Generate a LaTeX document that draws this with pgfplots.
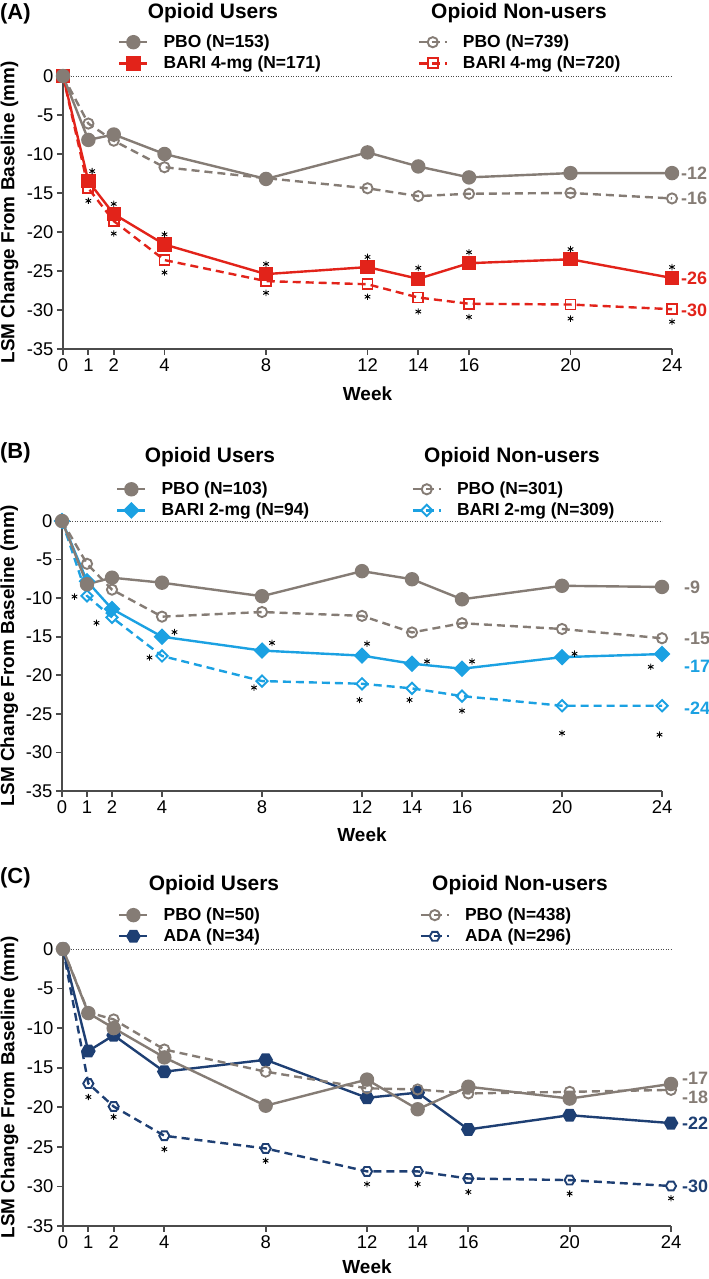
\documentclass[border=0pt]{standalone}
\usepackage{pgfplots}
\pgfplotsset{compat=1.18}
\usepackage{fontspec}
\setmainfont{Liberation Sans}
\usetikzlibrary{plotmarks}

\definecolor{pgray}{RGB}{133,124,117}
\definecolor{pred}{RGB}{226,35,26}
\definecolor{pblue}{RGB}{27,161,226}
\definecolor{pnavy}{RGB}{30,63,115}
\definecolor{axgray}{RGB}{75,75,75}

% hexagon marks for the ADA series
\pgfdeclareplotmark{hexagon}{%
  \pgfpathmoveto{\pgfpointpolar{0}{\pgfplotmarksize}}%
  \pgfpathlineto{\pgfpointpolar{60}{\pgfplotmarksize}}%
  \pgfpathlineto{\pgfpointpolar{120}{\pgfplotmarksize}}%
  \pgfpathlineto{\pgfpointpolar{180}{\pgfplotmarksize}}%
  \pgfpathlineto{\pgfpointpolar{240}{\pgfplotmarksize}}%
  \pgfpathlineto{\pgfpointpolar{300}{\pgfplotmarksize}}%
  \pgfpathclose\pgfusepathqstroke}
\pgfdeclareplotmark{hexagon*}{%
  \pgfpathmoveto{\pgfpointpolar{0}{\pgfplotmarksize}}%
  \pgfpathlineto{\pgfpointpolar{60}{\pgfplotmarksize}}%
  \pgfpathlineto{\pgfpointpolar{120}{\pgfplotmarksize}}%
  \pgfpathlineto{\pgfpointpolar{180}{\pgfplotmarksize}}%
  \pgfpathlineto{\pgfpointpolar{240}{\pgfplotmarksize}}%
  \pgfpathlineto{\pgfpointpolar{300}{\pgfplotmarksize}}%
  \pgfpathclose\pgfusepathqfillstroke}

\newcommand{\hdr}{\bfseries\fontsize{21}{24}\selectfont}
\newcommand{\lastlab}{\bfseries\fontsize{18}{21}\selectfont}

\pgfplotsset{
  panel/.style={
    scale only axis, anchor=south west,
    xmin=0, xmax=24, ymin=-35, ymax=0,
    axis lines=left,
    axis line style={-, line width=1.8bp, draw=axgray},
    xtick={0,1,2,4,8,12,14,16,20,24},
    xticklabels={0,1,2,4,8,12,14,16,20,24},
    ytick={-35,-30,-25,-20,-15,-10,-5,0},
    yticklabels={-35,-30,-25,-20,-15,-10,-5,0},
    tick style={line width=1.8bp, draw=axgray},
    tick align=outside, major tick length=6bp,
    tick label style={font=\fontsize{18.5}{21}\selectfont, text=black},
    xlabel={Week}, ylabel={LSM Change From Baseline (mm)},
    every axis x label/.style={at={(axis description cs:0.5,-0.163)}, anchor=center,
      font=\bfseries\fontsize{19}{22}\selectfont},
    every axis y label/.style={at={(axis description cs:-0.088,0.5)}, rotate=90, anchor=center,
      font=\bfseries\fontsize{19}{22}\selectfont},
    clip=false,
    legend columns=2,
    legend cell align=left,
    legend image code/.code={\draw[mark repeat=2,mark phase=2,##1] plot coordinates {(0bp,0bp) (14bp,0bp) (28bp,0bp)};},
    legend style={draw=none, fill=none, anchor=north west, inner sep=0pt,
      font=\bfseries\fontsize{17.5}{20}\selectfont,
      nodes={inner sep=1bp}, row sep=5bp,
      /tikz/every odd column/.append style={column sep=14bp}},
  },
  zeroline/.style={forget plot, axgray, line width=0.9bp, dash pattern=on 0.9bp off 1.6bp},
  users/.style={line width=2.4bp, solid, mark size=6bp},
  nonusers/.style={line width=2.4bp, dash pattern=on 8bp off 5bp, mark size=5.1bp},
  openmk/.style={mark options={solid, fill=white, line width=1.9bp, #1}},
  openmk/.default={},
  ast/.style={forget plot, only marks, mark=asterisk, mark size=3.2bp,
    mark options={black, line width=0.9bp}},
}

\begin{document}
\begin{tikzpicture}[x=1bp,y=1bp]
\useasboundingbox (0,0) rectangle (709,1279);

%%%%%%%%%%%%%%%% (A)
\begin{axis}[panel, at={(63bp,930bp)}, width=609bp, height=273bp,
  legend style={at={(axis description cs:0.0903,1.154)},
    /tikz/every even column/.append style={column sep=53bp}}]
\addlegendimage{users, pgray, mark=*, mark options={fill=pgray}}
\addlegendentry{\makebox[200bp][l]{PBO (N=153)}}
\addlegendimage{nonusers, pgray, mark=o, openmk}
\addlegendentry{PBO (N=739)}
\addlegendimage{users, pred, mark=square*, mark options={fill=pred}}
\addlegendentry{\makebox[200bp][l]{BARI 4-mg (N=171)}}
\addlegendimage{nonusers, pred, mark=square, mark size=5bp, openmk}
\addlegendentry{BARI 4-mg (N=720)}

\addplot[zeroline] coordinates {(0,0) (24,0)};
\addplot[forget plot, nonusers, pred, mark=square, mark size=5bp, openmk] coordinates {
  (0,0) (1,-14.4) (2,-18.6) (4,-23.6) (8,-26.3) (12,-26.7) (14,-28.4) (16,-29.2) (20,-29.3) (24,-29.9)};
\addplot[forget plot, users, pred, mark=square*, mark options={fill=pred}] coordinates {
  (0,0) (1,-13.5) (2,-17.7) (4,-21.6) (8,-25.4) (12,-24.5) (14,-26.0) (16,-24.0) (20,-23.5) (24,-25.9)};
\addplot[forget plot, nonusers, pgray, mark=o, openmk] coordinates {
  (0,0) (1,-6.1) (2,-8.3) (4,-11.7) (8,-13.1) (12,-14.4) (14,-15.4) (16,-15.1) (20,-15.0) (24,-15.7)};
\addplot[forget plot, users, pgray, mark=*, mark options={fill=pgray}] coordinates {
  (0,0) (1,-8.2) (2,-7.5) (4,-10.0) (8,-13.2) (12,-9.8) (14,-11.6) (16,-13.0) (20,-12.45) (24,-12.45)};
\addplot[ast] coordinates {
  (1.15,-12.2) (2,-16.4) (4,-20.3) (8,-24.1) (12,-23.2) (14,-24.6) (16,-22.6) (20,-22.2) (24,-24.5)
  (1,-16.0) (2,-20.2) (4,-25.2) (8,-27.8) (12,-28.3) (14,-30.2) (16,-30.9) (20,-31.1) (24,-31.5)};

\node[anchor=west, inner sep=0pt, xshift=9bp, text=pgray, font=\lastlab] at (axis cs:24,-12.45) {-12};
\node[anchor=west, inner sep=0pt, xshift=9bp, text=pgray, font=\lastlab] at (axis cs:24,-15.7) {-16};
\node[anchor=west, inner sep=0pt, xshift=9bp, text=pred, font=\lastlab] at (axis cs:24,-25.9) {-26};
\node[anchor=west, inner sep=0pt, xshift=9bp, text=pred, font=\lastlab] at (axis cs:24,-30.0) {-30};
\end{axis}
\node[anchor=west, inner sep=0pt, font=\bfseries\fontsize{22}{25}\selectfont] at (0,1265) {(A)};
\node[font=\hdr] at (213,1266) {Opioid Users};
\node[font=\hdr] at (519,1266) {Opioid Non-users};

%%%%%%%%%%%%%%%% (B)
\begin{axis}[panel, at={(62bp,488bp)}, width=600bp, height=270bp,
  legend style={at={(axis description cs:0.09,1.148)},
    /tikz/every even column/.append style={column sep=49bp}}]
\addlegendimage{users, pgray, mark=*, mark options={fill=pgray}}
\addlegendentry{\makebox[200bp][l]{PBO (N=103)}}
\addlegendimage{nonusers, pgray, mark=o, openmk}
\addlegendentry{PBO (N=301)}
\addlegendimage{users, pblue, mark=square*, mark size=4.7bp, mark options={fill=pblue, rotate=45}}
\addlegendentry{\makebox[200bp][l]{BARI 2-mg (N=94)}}
\addlegendimage{nonusers, pblue, mark=square, mark size=4bp, openmk={rotate=45}}
\addlegendentry{BARI 2-mg (N=309)}

\addplot[zeroline] coordinates {(0,0) (24,0)};
\addplot[forget plot, nonusers, pblue, mark=square, mark size=4bp, openmk={rotate=45}] coordinates {
  (0,0) (1,-9.7) (2,-12.5) (4,-17.5) (8,-20.75) (12,-21.1) (14,-21.7) (16,-22.7) (20,-23.95) (24,-23.95)};
\addplot[forget plot, users, pblue, mark=square*, mark size=4.7bp, mark options={fill=pblue, rotate=45}] coordinates {
  (0,0) (1,-7.8) (2,-11.4) (4,-15.0) (8,-16.8) (12,-17.45) (14,-18.5) (16,-19.15) (20,-17.65) (24,-17.25)};
\addplot[forget plot, nonusers, pgray, mark=o, openmk] coordinates {
  (0,0) (1,-5.55) (2,-8.9) (4,-12.4) (8,-11.8) (12,-12.3) (14,-14.45) (16,-13.25) (20,-14.0) (24,-15.2)};
\addplot[forget plot, users, pgray, mark=*, mark options={fill=pgray}] coordinates {
  (0,0) (1,-8.2) (2,-7.35) (4,-8.0) (8,-9.75) (12,-6.5) (14,-7.55) (16,-10.15) (20,-8.4) (24,-8.55)};
\addplot[ast] coordinates {
  (4.5,-14.4) (8.4,-15.8) (12.2,-15.9) (14.6,-18.2) (16.4,-18.2) (20.5,-17.2) (23.55,-18.9)
  (0.5,-9.8) (1.38,-13.2) (3.5,-17.7) (7.68,-21.6) (11.9,-23.2) (13.9,-23.2) (16.0,-24.6) (20.0,-27.5) (23.9,-27.7)};

\node[anchor=west, inner sep=0pt, xshift=22bp, text=pgray, font=\lastlab] at (axis cs:24,-8.55) {-9};
\node[anchor=west, inner sep=0pt, xshift=22bp, text=pgray, font=\lastlab] at (axis cs:24,-15.2) {-15};
\node[anchor=west, inner sep=0pt, xshift=22bp, text=pblue, font=\lastlab] at (axis cs:24,-18.9) {-17};
\node[anchor=west, inner sep=0pt, xshift=22bp, text=pblue, font=\lastlab] at (axis cs:24,-24.3) {-24};
\end{axis}
\node[anchor=west, inner sep=0pt, font=\bfseries\fontsize{22}{25}\selectfont] at (0,826) {(B)};
\node[font=\hdr] at (210,822) {Opioid Users};
\node[font=\hdr] at (512,822) {Opioid Non-users};

%%%%%%%%%%%%%%%% (C)
\begin{axis}[panel, at={(63bp,53bp)}, width=608bp, height=277bp,
  every axis x label/.append style={at={(axis description cs:0.5,-0.148)}},
  legend style={at={(axis description cs:0.0905,1.152)},
    /tikz/every even column/.append style={column sep=55bp}}]
\addlegendimage{users, pgray, mark=*, mark options={fill=pgray}}
\addlegendentry{\makebox[200bp][l]{PBO (N=50)}}
\addlegendimage{nonusers, pgray, mark=o, openmk}
\addlegendentry{PBO (N=438)}
\addlegendimage{users, pnavy, mark=hexagon*, mark options={fill=pnavy}}
\addlegendentry{\makebox[200bp][l]{ADA (N=34)}}
\addlegendimage{nonusers, pnavy, mark=hexagon, openmk}
\addlegendentry{ADA (N=296)}

\addplot[zeroline] coordinates {(0,0) (24,0)};
\addplot[forget plot, nonusers, pnavy, mark=hexagon, openmk] coordinates {
  (0,0) (1,-17.0) (2,-19.9) (4,-23.6) (8,-25.2) (12,-28.1) (14,-28.1) (16,-29.0) (20,-29.2) (24,-29.95)};
\addplot[forget plot, users, pnavy, mark=hexagon*, mark options={fill=pnavy}] coordinates {
  (0,0) (1,-12.9) (2,-10.9) (4,-15.5) (8,-14.0) (12,-18.8) (14,-18.15) (16,-22.8) (20,-21.0) (24,-22.0)};
\addplot[forget plot, nonusers, pgray, mark=o, openmk] coordinates {
  (0,0) (1,-8.0) (2,-8.9) (4,-12.7) (8,-15.5) (12,-17.6) (14,-17.75) (16,-18.25) (20,-18.05) (24,-17.8)};
\addplot[forget plot, users, pgray, mark=*, mark options={fill=pgray}] coordinates {
  (0,0) (1,-8.1) (2,-10.0) (4,-13.7) (8,-19.8) (12,-16.5) (14,-20.25) (16,-17.4) (20,-18.9) (24,-17.05)};
\addplot[ast] coordinates {
  (1,-18.7) (2,-21.2) (4,-25.3) (8,-26.75) (12,-29.7) (14,-29.7) (16,-30.7) (20,-30.9) (24,-31.5)};

\node[anchor=west, inner sep=0pt, xshift=11bp, text=pgray, font=\lastlab] at (axis cs:24,-16.3) {-17};
\node[anchor=west, inner sep=0pt, xshift=11bp, text=pgray, font=\lastlab] at (axis cs:24,-18.8) {-18};
\node[anchor=west, inner sep=0pt, xshift=11bp, text=pnavy, font=\lastlab] at (axis cs:24,-22.0) {-22};
\node[anchor=west, inner sep=0pt, xshift=11bp, text=pnavy, font=\lastlab] at (axis cs:24,-30.0) {-30};
\end{axis}
\node[anchor=west, inner sep=0pt, font=\bfseries\fontsize{22}{25}\selectfont] at (0,401) {(C)};
\node[font=\hdr] at (214,394) {Opioid Users};
\node[font=\hdr] at (520,394) {Opioid Non-users};
\end{tikzpicture}
\end{document}
